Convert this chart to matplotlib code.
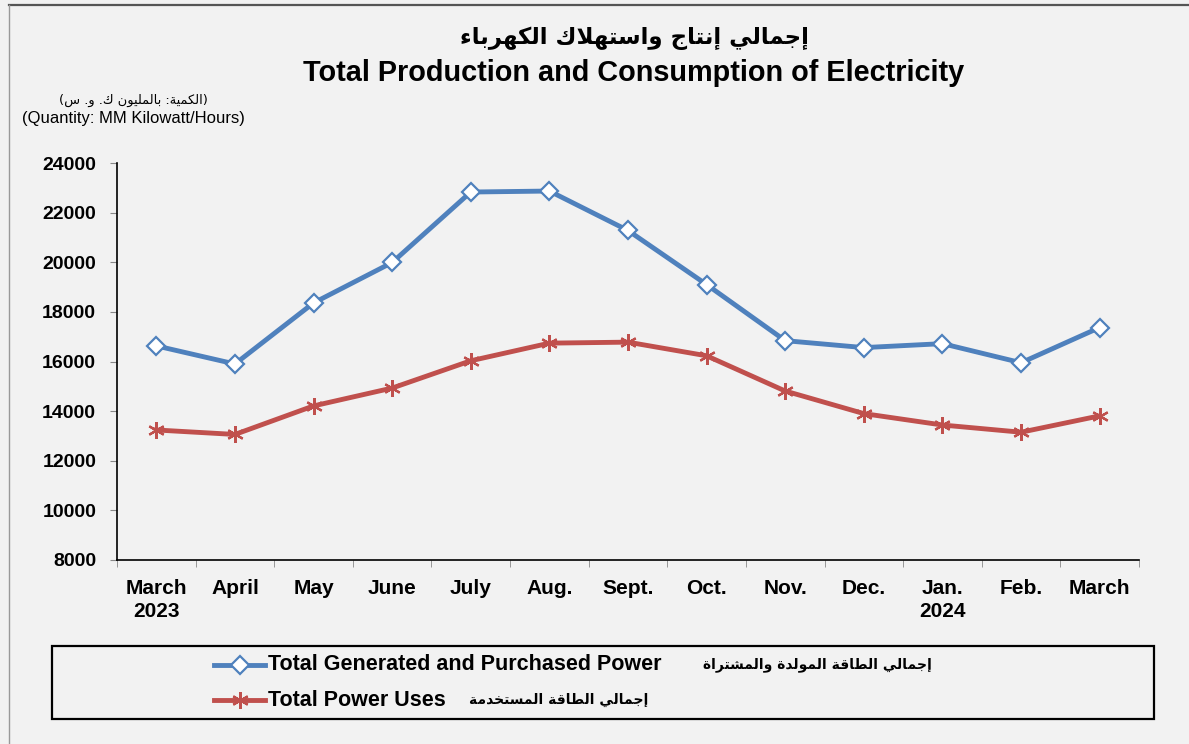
#!/usr/bin/env python3
"""Total production and consumption of electricity, March 2023 - March 2024."""

import matplotlib
matplotlib.use("Agg")
import matplotlib.pyplot as plt
from matplotlib.lines import Line2D
from matplotlib.patches import Rectangle

months = ["March\n2023", "April", "May", "June", "July", "Aug.", "Sept.",
          "Oct.", "Nov.", "Dec.", "Jan.\n2024", "Feb.", "March"]
generated = [16630, 15900, 18360, 19990, 22830, 22870, 21280, 19100,
             16840, 16560, 16720, 15950, 17370]
uses = [13240, 13060, 14210, 14930, 16030, 16740, 16780, 16230,
        14810, 13900, 13440, 13150, 13810]

yticks = [8000, 10000, 12000, 14000, 16000, 18000, 20000, 22000, 24000]

C = {"gen": "#4F81BD", "use": "#C0504D", "bg": "#F2F2F2", "ink": "#000000"}

W, H = 1189, 744

# ---- minimal arabic shaping (matplotlib has no bidi / joining) -----------------
AR_FORMS = {
    "\u0621": ("\uFE80",),
    "\u0625": ("\uFE87", "\uFE88"),
    "\u0627": ("\uFE8D", "\uFE8E"),
    "\u0628": ("\uFE8F", "\uFE90", "\uFE91", "\uFE92"),
    "\u0629": ("\uFE93", "\uFE94"),
    "\u062A": ("\uFE95", "\uFE96", "\uFE97", "\uFE98"),
    "\u062C": ("\uFE9D", "\uFE9E", "\uFE9F", "\uFEA0"),
    "\u062E": ("\uFEA5", "\uFEA6", "\uFEA7", "\uFEA8"),
    "\u062F": ("\uFEA9", "\uFEAA"),
    "\u0631": ("\uFEAD", "\uFEAE"),
    "\u0633": ("\uFEB1", "\uFEB2", "\uFEB3", "\uFEB4"),
    "\u0634": ("\uFEB5", "\uFEB6", "\uFEB7", "\uFEB8"),
    "\u0637": ("\uFEC1", "\uFEC2", "\uFEC3", "\uFEC4"),
    "\u0642": ("\uFED5", "\uFED6", "\uFED7", "\uFED8"),
    "\u0643": ("\uFED9", "\uFEDA", "\uFEDB", "\uFEDC"),
    "\u0644": ("\uFEDD", "\uFEDE", "\uFEDF", "\uFEE0"),
    "\u0645": ("\uFEE1", "\uFEE2", "\uFEE3", "\uFEE4"),
    "\u0646": ("\uFEE5", "\uFEE6", "\uFEE7", "\uFEE8"),
    "\u0647": ("\uFEE9", "\uFEEA", "\uFEEB", "\uFEEC"),
    "\u0648": ("\uFEED", "\uFEEE"),
    "\u064A": ("\uFEF1", "\uFEF2", "\uFEF3", "\uFEF4"),
}
LAM_ALEF = {"\u0627": ("\uFEFB", "\uFEFC"), "\u0625": ("\uFEF9", "\uFEFA")}
MIRROR = {"(": ")", ")": "("}


def shape_ar(text):
    def joins(c): return c in AR_FORMS and len(AR_FORMS[c]) > 1
    def dual(c): return c in AR_FORMS and len(AR_FORMS[c]) == 4
    out, i, n = [], 0, len(text)
    while i < n:
        c = text[i]
        if c not in AR_FORMS:
            out.append(MIRROR.get(c, c)); i += 1; continue
        prev = text[i - 1] if i > 0 else ""
        nxt = text[i + 1] if i + 1 < n else ""
        lp = dual(prev) and joins(c)
        if c == "\u0644" and nxt in LAM_ALEF:
            iso, fin = LAM_ALEF[nxt]
            out.append(fin if lp else iso); i += 2; continue
        ln = dual(c) and joins(nxt)
        f = AR_FORMS[c]
        if lp and ln: out.append(f[3])
        elif lp: out.append(f[1])
        elif ln: out.append(f[2])
        else: out.append(f[0])
        i += 1
    return "".join(reversed(out))


plt.rcParams["font.family"] = ["Liberation Sans", "DejaVu Sans"]

fig = plt.figure(figsize=(W / 100, H / 100), dpi=100, facecolor=C["bg"])


def fx(px): return px / W
def fy(py): return 1 - py / H


ax = fig.add_axes([fx(117), fy(560), (1139 - 117) / W, (560 - 163) / H])
ax.set_facecolor(C["bg"])

LW = 3.5
x = list(range(len(months)))
ax.plot(x, generated, "-D", color=C["gen"], linewidth=LW, markersize=9,
        markerfacecolor="white", markeredgecolor=C["gen"], markeredgewidth=1.6,
        zorder=3)
ax.plot(x, uses, "-", marker=(6, 2, 0), color=C["use"], linewidth=LW,
        markersize=12, markeredgewidth=1.6, zorder=3)

ax.set_xlim(-0.5, len(months) - 0.5)
ax.set_ylim(8000, 24000)
ax.set_yticks(yticks)
ax.set_yticklabels([str(v) for v in yticks], fontsize=14, fontweight="bold")
ax.set_xticks(x)
ax.set_xticklabels(months, fontsize=15, fontweight="bold", linespacing=1.25)
ax.set_xticks([i - 0.5 for i in range(len(months) + 1)], minor=True)
ax.tick_params(axis="x", which="major", length=0, pad=14)
ax.tick_params(axis="x", which="minor", length=5, color="#888888", direction="out")
ax.tick_params(axis="y", length=5, color="#888888", direction="out", pad=10)

for s in ("top", "right"):
    ax.spines[s].set_visible(False)
for s in ("left", "bottom"):
    ax.spines[s].set_color("#000000")
    ax.spines[s].set_linewidth(1.2)

# ---- frame ----------------------------------------------------------------------
fig.add_artist(Line2D([fx(9), 1], [fy(5), fy(5)], color="#555555", linewidth=1.6))
fig.add_artist(Line2D([fx(9), fx(9)], [0, fy(5)], color="#999999", linewidth=1.0))

# ---- titles ---------------------------------------------------------------------
fig.text(fx(634), fy(38), shape_ar("إجمالي إنتاج واستهلاك الكهرباء"),
         family="DejaVu Sans", fontsize=16.5, fontweight="bold", ha="center", va="center")
fig.text(fx(634), fy(73), "Total Production and Consumption of Electricity",
         fontsize=20.8, fontweight="bold", ha="center", va="center")
fig.text(fx(133), fy(100), shape_ar("(الكمية: بالمليون ك. و. س)"),
         family="DejaVu Sans", fontsize=9.4, ha="center", va="center")
fig.text(fx(133), fy(118), "(Quantity: MM Kilowatt/Hours)",
         fontsize=12, ha="center", va="center")

# ---- legend box -----------------------------------------------------------------
fig.add_artist(Rectangle((fx(52), fy(719)), fx(1154) - fx(52), fy(646) - fy(719),
                         transform=fig.transFigure, fill=False,
                         edgecolor="#000000", linewidth=1.6))
fig.add_artist(Line2D([fx(214), fx(239.5), fx(265)], [fy(665)] * 3, color=C["gen"],
                      linewidth=LW, marker="D", markevery=[1], markersize=9,
                      markerfacecolor="white", markeredgewidth=1.6))
fig.add_artist(Line2D([fx(214), fx(239.5), fx(265)], [fy(700)] * 3, color=C["use"],
                      linewidth=LW, marker=(6, 2, 0), markevery=[1], markersize=12,
                      markeredgewidth=1.6))
fig.text(fx(268), fy(665), "Total Generated and Purchased Power",
         fontsize=15.5, fontweight="bold", ha="left", va="center")
fig.text(fx(932), fy(665), shape_ar("إجمالي الطاقة المولدة والمشتراة"),
         family="DejaVu Sans", fontsize=10, fontweight="bold", ha="right", va="center")
fig.text(fx(268), fy(700), "Total Power Uses",
         fontsize=15.5, fontweight="bold", ha="left", va="center")
fig.text(fx(648), fy(700), shape_ar("إجمالي الطاقة المستخدمة"),
         family="DejaVu Sans", fontsize=10, fontweight="bold", ha="right", va="center")

fig.savefig("out.png", dpi=100, facecolor=C["bg"])
